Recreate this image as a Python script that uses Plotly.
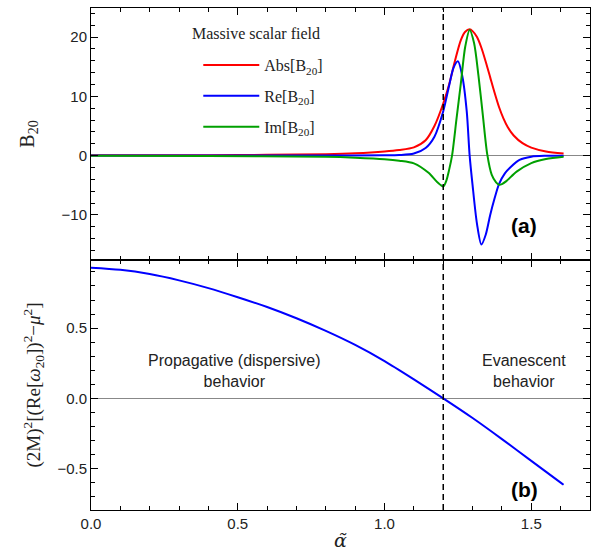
import plotly.graph_objects as go
from plotly.subplots import make_subplots

# ---- data ----
alpha_abs = [0.00, 0.20, 0.40, 0.60, 0.80, 0.90, 1.00, 1.05, 1.10, 1.14,
             1.17, 1.20, 1.22, 1.24, 1.26, 1.275, 1.29, 1.30, 1.315, 1.33,
             1.345, 1.36, 1.375, 1.39, 1.405, 1.42, 1.44, 1.47, 1.50, 1.55, 1.61]
abs_b20 = [0.05, 0.06, 0.08, 0.13, 0.25, 0.40, 0.70, 0.95, 1.40, 2.6,
           5.0, 8.8, 12.0, 16.0, 19.5, 20.9, 21.3, 21.0, 20.0, 18.2,
           15.8, 13.2, 10.6, 8.2, 6.3, 4.8, 3.4, 2.1, 1.35, 0.70, 0.35]

alpha_re = [0.00, 0.40, 0.80, 1.00, 1.05, 1.10, 1.14, 1.17, 1.20, 1.22,
            1.235, 1.25, 1.265, 1.28, 1.29, 1.30, 1.315, 1.33, 1.345, 1.36,
            1.375, 1.39, 1.41, 1.43, 1.46, 1.50, 1.55, 1.61]
re_b20 = [0.01, 0.02, 0.03, 0.05, 0.10, 0.35, 1.3, 3.2, 7.5, 11.8,
          14.8, 15.9, 13.4, 7.5, 0.0, -5.0, -11.5, -15.0, -13.3, -10.0,
          -7.2, -4.8, -3.0, -1.9, -0.72, -0.18, -0.03, 0.0]

alpha_im = [0.00, 0.40, 0.80, 0.90, 1.00, 1.05, 1.10, 1.15, 1.18, 1.20,
            1.21, 1.22, 1.23, 1.245, 1.26, 1.275, 1.29, 1.305, 1.32, 1.335,
            1.35, 1.365, 1.38, 1.39, 1.40, 1.415, 1.45, 1.50, 1.55, 1.61]
im_b20 = [-0.02, -0.05, -0.2, -0.35, -0.6, -0.85, -1.3, -2.9, -4.5, -5.2,
          -4.3, -2.4, 0.0, 6.1, 12.2, 18.4, 21.2, 19.0, 13.5, 6.8,
          0.2, -3.2, -4.5, -4.9, -4.8, -4.3, -2.7, -1.25, -0.57, -0.2]

alpha_disp = [0.0, 0.1, 0.2, 0.3, 0.4, 0.5, 0.6, 0.7, 0.8, 0.9,
              1.0, 1.1, 1.2, 1.3, 1.4, 1.5, 1.6, 1.61]
disp = [0.93, 0.915, 0.885, 0.84, 0.785, 0.72, 0.65, 0.57, 0.48, 0.38,
        0.265, 0.135, 0.0, -0.14, -0.29, -0.445, -0.60, -0.615]

alpha_crit = 1.2
x_ticks = [0.0, 0.5, 1.0, 1.5]
x_ticklabels = ["0.0", "0.5", "1.0", "1.5"]
ya_ticks = [-10, 0, 10, 20]
ya_ticklabels = ["\u221210", "0", "10", "20"]
yb_ticks = [-0.5, 0.0, 0.5]
yb_ticklabels = ["\u22120.5", "0.0", "0.5"]

SERIF = "Liberation Serif, Times New Roman, serif"
SANS = "Liberation Sans, Arial, sans-serif"

fig = make_subplots(rows=2, cols=1, shared_xaxes=True, vertical_spacing=0,
                    row_heights=[252, 250])

fig.add_trace(go.Scatter(x=alpha_abs, y=abs_b20, mode="lines", name="Abs[B<sub>20</sub>]",
                         line=dict(color="#ff0000", width=2, shape="spline", smoothing=0.8),
                         legendgroup="a"), row=1, col=1)
fig.add_trace(go.Scatter(x=alpha_re, y=re_b20, mode="lines", name="Re[B<sub>20</sub>]",
                         line=dict(color="#0000ff", width=2, shape="spline", smoothing=0.8),
                         legendgroup="b"), row=1, col=1)
fig.add_trace(go.Scatter(x=alpha_im, y=im_b20, mode="lines", name="Im[B<sub>20</sub>]",
                         line=dict(color="#00a000", width=2, shape="spline", smoothing=0.8),
                         legendgroup="c"), row=1, col=1)
fig.add_trace(go.Scatter(x=alpha_disp, y=disp, mode="lines", showlegend=False,
                         line=dict(color="#0000ff", width=2, shape="spline", smoothing=0.8)),
              row=2, col=1)

axis_common = dict(showline=True, linecolor="black", linewidth=1, mirror="allticks",
                   ticks="inside", ticklen=7, tickcolor="black", tickwidth=1,
                   showgrid=False, automargin=False,
                   tickfont=dict(family=SANS, size=15, color="#222"))

fig.update_xaxes(range=[0, 1.7], tickvals=x_ticks, ticktext=x_ticklabels, zeroline=False,
                 minor=dict(dtick=0.1, tick0=0, ticks="inside", ticklen=4, tickcolor="black"),
                 **axis_common)
fig.update_xaxes(showticklabels=False, row=1, col=1)
fig.update_xaxes(title=dict(text="<i>\u03b1\u0303</i>", font=dict(family="DejaVu Serif, serif", size=19, color="#222"),
                            standoff=2), row=2, col=1)

fig.update_yaxes(range=[-17.6, 24.9], tickvals=ya_ticks, ticktext=ya_ticklabels,
                 zeroline=True, zerolinecolor="#888", zerolinewidth=1,
                 minor=dict(dtick=2, tick0=0, ticks="inside", ticklen=4, tickcolor="black"),
                 title=dict(text="B<sub>20</sub>", font=dict(family=SERIF, size=20, color="#222"),
                            standoff=21),
                 row=1, col=1, **axis_common)
fig.update_yaxes(range=[-0.795, 0.985], tickvals=yb_ticks, ticktext=yb_ticklabels, zeroline=True,
                 zerolinecolor="#888", zerolinewidth=1,
                 minor=dict(dtick=0.1, tick0=0, ticks="inside", ticklen=4, tickcolor="black"),
                 title=dict(text="(2M)<sup>2</sup>[(Re[<i>\u03c9</i><sub>20</sub>])<sup>2</sup>\u2212<i>\u03bc</i><sup>2</sup>]",
                            font=dict(family=SERIF, size=19, color="#222"), standoff=11),
                 row=2, col=1, **axis_common)

fig.add_shape(type="line", xref="x", yref="paper", x0=alpha_crit, x1=alpha_crit, y0=0, y1=1,
              line=dict(color="black", width=1.5, dash="6px,4px"))

fig.add_annotation(text="Massive scalar field", x=0.198, y=0.950, xref="paper", yref="paper",
                   xanchor="left", yanchor="middle", showarrow=False,
                   font=dict(family=SERIF, size=16, color="#222"))
fig.add_annotation(text="<b>(a)</b>", x=1.476, y=-11.7, xref="x", yref="y", showarrow=False,
                   font=dict(family=SANS, size=21, color="black"))
fig.add_annotation(text="<b>(b)</b>", x=1.476, y=-0.652, xref="x2", yref="y2", showarrow=False,
                   font=dict(family=SANS, size=21, color="black"))
fig.add_annotation(text="Propagative (dispersive)<br>behavior", x=0.49, y=0.194, xref="x2", yref="y2",
                   showarrow=False, font=dict(family=SANS, size=16, color="#222"))
fig.add_annotation(text="Evanescent<br>behavior", x=1.476, y=0.194, xref="x2", yref="y2",
                   showarrow=False, font=dict(family=SANS, size=16, color="#222"))

fig.update_layout(
    width=598, height=552,
    margin=dict(l=91, r=8, t=8, b=42),
    paper_bgcolor="white", plot_bgcolor="white",
    showlegend=True,
    legend=dict(x=0.215, y=0.920, xanchor="left", yanchor="top", bgcolor="rgba(0,0,0,0)",
                font=dict(family=SERIF, size=16, color="#222"), tracegroupgap=7,
                itemwidth=56),
)

fig.write_html("out.html", config={"displayModeBar": False},
               post_script="document.body.style.margin='0';")
